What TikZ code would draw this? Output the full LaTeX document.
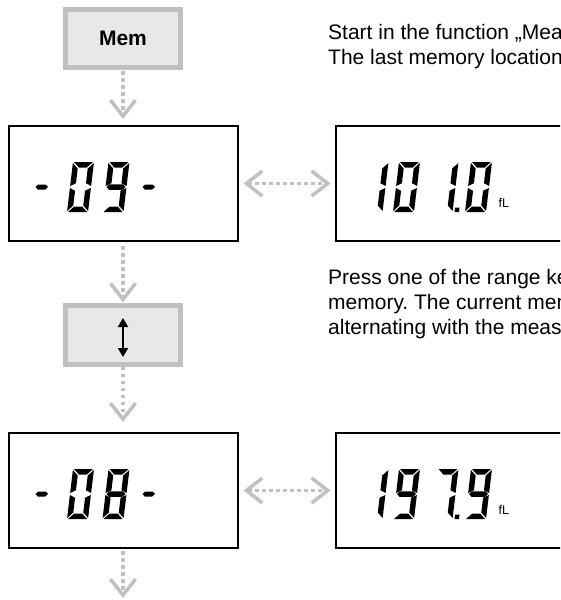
\documentclass[tikz,border=0pt]{standalone}
\usepackage{fontspec}
\setmainfont{Liberation Sans}
\usetikzlibrary{arrows.meta,positioning}
\frenchspacing

\definecolor{keygray}{HTML}{C0C0C0}
\definecolor{keyfill}{HTML}{E8E8E8}
\definecolor{flowgray}{HTML}{C0C0C0}

\newcommand\lcdsega{\fill (1,50) -- (20,50) -- (14.5,44.5) -- (6.5,44.5) -- cycle;}
\newcommand\lcdsegb{\fill (21,49) -- (21,26) -- (15.5,28.75) -- (15.5,43.5) -- cycle;}
\newcommand\lcdsegc{\fill (21,1) -- (21,24) -- (15.5,21.25) -- (15.5,6.5) -- cycle;}
\newcommand\lcdsegd{\fill (1,0) -- (20,0) -- (14.5,5.5) -- (6.5,5.5) -- cycle;}
\newcommand\lcdsege{\fill (0,1) -- (0,24) -- (5.5,21.25) -- (5.5,6.5) -- cycle;}
\newcommand\lcdsegf{\fill (0,49) -- (0,26) -- (5.5,28.75) -- (5.5,43.5) -- cycle;}
\newcommand\lcdsegg{\fill (1,25) -- (3.75,27.75) -- (17.25,27.75) -- (20,25) -- (17.25,22.25) -- (3.75,22.25) -- cycle;}
\newcommand\lcdsegm{\fill (0,25) -- (2.5,27.5) -- (10,27.5) -- (12.5,25) -- (10,22.5) -- (2.5,22.5) -- cycle;}
\newcommand\lcdsegp{\fill (23,0) rectangle (27.5,4.5);}

\newcommand{\lcddigit}[3]{%
  \begin{scope}[shift={(#1.center)}, shift={(#2,28.5)}, y=1pt, xslant=0.12]
    \foreach \s in {#3} {\csname lcdseg\s\endcsname}
  \end{scope}}

\begin{document}
\begin{tikzpicture}[x=1pt, y=-1pt, node distance=150pt, on grid,
    key/.style={draw=keygray, fill=keyfill, line width=5pt, minimum width=115pt,
      minimum height=58.5pt, font=\fontsize{21}{25}\selectfont\bfseries},
    lcd/.style={draw, line width=2pt, minimum width=229pt, minimum height=115pt},
    note/.style={font=\fontsize{21}{25}\selectfont, align=left, inner sep=0pt, anchor=base west},
    unit/.style={font=\fontsize{12.5}{14}\selectfont, inner sep=0pt, anchor=base west},
    chev/.tip={Straight Barb[length=16pt, width=25pt]},
    flow/.style={draw=flowgray, line width=3.5pt, dash pattern=on 3.5pt off 3.5pt, -chev},
    both/.style={chev-chev},
    updn/.style={line width=1.8pt, {Triangle[length=9pt, width=10pt]}-{Triangle[length=9pt, width=10pt]}}]
    \useasboundingbox (0,0) rectangle (560,600);
    \clip (0,0) rectangle (560,600);

    \node[key] (mem) at (123,38.5) {Mem};
    \node[lcd] (disp09) [below=145pt of mem] {};
    \node[key] (updown) [below=151.5pt of disp09] {};
    \node[lcd] (disp08) [below=155.5pt of updown] {};
    \node[lcd] (val1) [right=327pt of disp09] {};
    \node[lcd] (val2) [right=327pt of disp08] {};
    \coordinate [below=107.5pt of disp08] (next);

    \node[note] (start) at (328,64) {Start in the function „Measure“\\The last memory location};
    \node[note] (press) at (328,334) {Press one of the range keys\\memory. The current memory\\alternating with the measured};

    \lcddigit{disp09}{-90.5}{m}
    \lcddigit{disp09}{-56}{a,b,c,d,e,f}
    \lcddigit{disp09}{-20.5}{a,b,c,d,f,g}
    \lcddigit{disp09}{16.5}{m}
    \lcddigit{disp08}{-90.5}{m}
    \lcddigit{disp08}{-56}{a,b,c,d,e,f}
    \lcddigit{disp08}{-20.5}{a,b,c,d,e,f,g}
    \lcddigit{disp08}{16.5}{m}

    \lcddigit{val1}{-88.5}{b,c}
    \lcddigit{val1}{-57}{a,b,c,d,e,f}
    \lcddigit{val1}{-18.5}{b,c,p}
    \lcddigit{val1}{15}{a,b,c,d,e,f}
    \node[unit] (unit1) at ([shift={(48.5,23.5)}]val1.center) {fL};
    \lcddigit{val2}{-88.5}{b,c}
    \lcddigit{val2}{-57}{a,b,c,d,f,g}
    \lcddigit{val2}{-18.5}{a,b,c,p}
    \lcddigit{val2}{15}{a,b,c,d,f,g}
    \node[unit] (unit2) at ([shift={(48.5,23.5)}]val2.center) {fL};

    \draw[updn] ([yshift=17pt]updown.center) -- ([yshift=-22pt]updown.center);

    \path[flow]
    (mem) edge [shorten <=1pt, shorten >=6pt] (disp09)
    (disp09) edge [shorten <=4pt, shorten >=1pt] (updown)
    (updown) edge [shorten >=10pt] (disp08)
    (disp08) edge [shorten <=2pt] (next)
    (disp09) edge [both, shorten <=5pt, shorten >=4pt] (val1)
    (disp08) edge [both, shorten <=5pt, shorten >=4pt] (val2);
\end{tikzpicture}
\end{document}
